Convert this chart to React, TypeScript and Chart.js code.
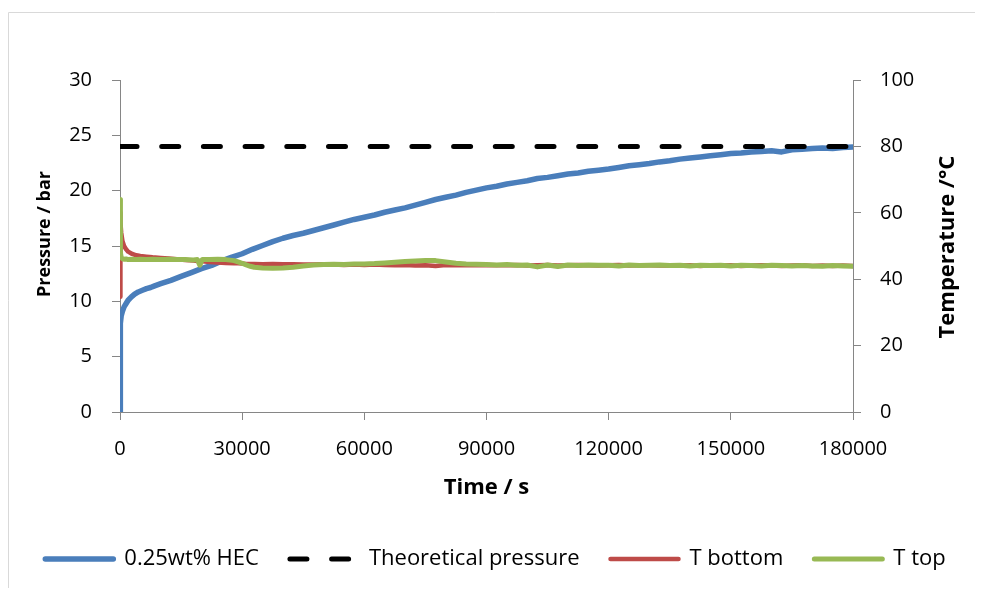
import React, { useEffect, useRef } from "react";
import { Chart, registerables } from "chart.js";

Chart.register(...registerables);

// ---------- data ----------
const seriesLabels = ["0.25wt% HEC", "Theoretical pressure", "T bottom", "T top"];
const xTitle = "Time / s";
const leftTitle = "Pressure / bar";
const rightTitle = "Temperature /°C";

const pressureTime = [
  0, 30, 80, 150, 300, 600, 1000, 1500, 2000, 2800, 3600, 4500, 5500, 6500, 7500, 8500,
  10000, 12500, 15000, 17500, 20000, 22500, 25000, 27500, 30000, 32500, 35000, 37500,
  40000, 42500, 45000, 47500, 50000, 52500, 55000, 57500, 60000, 62500, 65000, 67500,
  70000, 72500, 75000, 77500, 80000, 82500, 85000, 87500, 90000, 92500, 95000, 97500,
  100000, 102500, 105000, 107500, 110000, 112500, 115000, 117500, 120000, 122500, 125000,
  127500, 130000, 132500, 135000, 137500, 140000, 142500, 145000, 147500, 150000, 152500,
  155000, 157500, 160000, 162500, 165000, 167500, 170000, 172500, 175000, 177500, 180000,
];
const pressureHEC = [
  0, 4.0, 6.8, 8.0, 8.7, 9.1, 9.5, 9.8, 10.1, 10.4, 10.65, 10.85, 11.0, 11.15, 11.25, 11.4,
  11.6, 11.9, 12.25, 12.6, 12.95, 13.25, 13.65, 14.0, 14.3, 14.7, 15.05, 15.4,
  15.7, 15.95, 16.15, 16.4, 16.65, 16.9, 17.15, 17.4, 17.6, 17.8, 18.05, 18.25,
  18.45, 18.7, 18.95, 19.2, 19.4, 19.6, 19.85, 20.05, 20.25, 20.4, 20.6, 20.75,
  20.9, 21.1, 21.2, 21.35, 21.5, 21.6, 21.75, 21.85, 21.95, 22.1, 22.25,
  22.35, 22.45, 22.6, 22.7, 22.85, 22.95, 23.05, 23.15, 23.25, 23.35, 23.4,
  23.5, 23.55, 23.6, 23.5, 23.7, 23.75, 23.8, 23.85, 23.8, 23.9, 23.95,
];

const theoreticalTime = [0, 180000];
const theoreticalPressure = [24, 24];

const tempTime = [
  0, 60, 150, 300, 600, 1000, 1500, 2000, 3000, 4000,
  5000, 6500, 8000, 10000, 12000, 14000, 16000, 18000, 19000, 19600,
  20200, 22000, 24000, 26000, 28000, 29000, 30000, 31000, 32000, 33000,
  35000, 37500, 40000, 42500, 45000, 47500, 50000, 52500, 55000, 57500,
  60000, 62500, 65000, 67500, 70000, 72500, 75000, 77500, 80000, 82500,
  85000, 87500, 90000, 92500, 95000, 97500, 100000, 102500, 105000, 107500,
  110000, 112500, 115000, 117500, 120000, 122500, 125000, 127500, 130000, 132500,
  135000, 137500, 140000, 142500, 145000, 147500, 150000, 152500, 155000, 157500,
  160000, 162500, 165000, 167500, 170000, 172500, 175000, 177500, 180000,
];
const tBottom = [
  34.7, 60.0, 57.0, 54.0, 51.5, 50.0, 49.0, 48.3, 47.6, 47.2,
  47.0, 46.8, 46.6, 46.4, 46.2, 46.0, 45.8, 45.6, 45.5, 45.4,
  45.4, 45.2, 45.0, 44.9, 44.8, 44.8, 44.7, 44.6, 44.6, 44.6,
  44.5, 44.6, 44.5, 44.5, 44.4, 44.4, 44.5, 44.4, 44.3, 44.4,
  44.3, 44.4, 44.3, 44.2, 44.3, 44.1, 44.2, 44.0, 44.3, 44.2,
  44.3, 44.2, 44.3, 44.2, 44.2, 44.3, 44.1, 44.2, 44.3, 44.1,
  44.2, 44.3, 44.2, 44.1, 44.2, 44.3, 44.1, 44.2, 44.2, 44.1,
  44.2, 44.1, 44.2, 44.0, 44.2, 44.1, 44.2, 44.0, 44.1, 44.2,
  44.1, 44.0, 44.1, 44.2, 44.0, 44.1, 44.0, 44.1, 44.0,
];
const tTop = [
  64.0, 55.0, 48.0, 46.5, 46.2, 46.0, 46.1, 45.9, 46.0, 45.9,
  46.0, 45.9, 46.0, 45.9, 46.0, 45.9, 45.9, 45.8, 45.9, 44.2,
  45.9, 45.9, 46.0, 45.9, 45.6, 45.2, 44.8, 44.3, 43.9, 43.6,
  43.4, 43.3, 43.4, 43.6, 44.0, 44.3, 44.4, 44.5, 44.4, 44.6,
  44.6, 44.7, 44.9, 45.1, 45.3, 45.5, 45.6, 45.6, 45.2, 44.8,
  44.6, 44.5, 44.4, 44.3, 44.4, 44.2, 44.3, 43.7, 44.3, 43.8,
  44.3, 44.1, 44.3, 44.2, 44.2, 44.0, 44.3, 44.1, 44.2, 44.3,
  44.1, 44.2, 44.0, 44.2, 44.1, 44.2, 44.0, 44.2, 44.1, 44.0,
  44.2, 44.1, 44.0, 44.1, 44.0, 43.9, 44.1, 44.0, 43.9,
];

const xMin = 0, xMax = 180000, xStep = 30000;
const pMin = 0, pMax = 30, pStep = 5;
const tMin = 0, tMax = 100, tStep = 20;

// ---------- styling ----------
const FONT = "'Open Sans', sans-serif";
const AXIS_GREY = "#868686";
const colors = ["#4A7EBB", "#000000", "#BE4B48", "#98B954"];

const toPoints = (xs: number[], ys: number[]) => xs.map((x, i) => ({ x, y: ys[i] }));

const decorPlugin = {
  id: "decor",
  beforeDraw(chart: any) {
    const ctx = chart.ctx;
    ctx.save();
    ctx.strokeStyle = "#d9d9d9";
    ctx.lineWidth = 1;
    ctx.beginPath();
    ctx.moveTo(0.5, chart.height);
    ctx.lineTo(0.5, 4.5);
    ctx.lineTo(chart.width, 4.5);
    ctx.stroke();
    ctx.restore();
  },
  afterDraw(chart: any) {
    const ctx = chart.ctx;
    ctx.save();
    ctx.fillStyle = "#000";
    ctx.textAlign = "center";
    ctx.textBaseline = "middle";
    ctx.font = `bold 18px ${FONT}`;
    ctx.save();
    ctx.translate(37, 226);
    ctx.rotate(-Math.PI / 2);
    ctx.fillText(leftTitle, 0, 0);
    ctx.restore();
    ctx.font = `bold 22px ${FONT}`;
    ctx.save();
    ctx.translate(940, 239);
    ctx.rotate(-Math.PI / 2);
    ctx.fillText(rightTitle, 0, 0);
    ctx.restore();
    ctx.restore();
  },
};

export default function App() {
  const canvasRef = useRef<HTMLCanvasElement | null>(null);

  useEffect(() => {
    if (!canvasRef.current) return;
    Chart.defaults.font.family = FONT;
    const tickFont = { family: FONT, size: 20 };
    const chart = new Chart(canvasRef.current, {
      type: "line",
      data: {
        datasets: [
          {
            label: seriesLabels[0],
            data: toPoints(pressureTime, pressureHEC),
            yAxisID: "y",
            borderColor: colors[0],
            backgroundColor: colors[0],
            borderWidth: 5.5,
            borderCapStyle: "round",
            borderJoinStyle: "round",
            pointRadius: 0,
            order: 3,
          },
          {
            label: seriesLabels[1],
            data: toPoints(theoreticalTime, theoreticalPressure),
            yAxisID: "y",
            borderColor: colors[1],
            backgroundColor: colors[1],
            borderWidth: 5,
            borderDash: [17, 24.7],
            borderCapStyle: "round",
            pointRadius: 0,
            order: 2,
          },
          {
            label: seriesLabels[2],
            data: toPoints(tempTime, tBottom),
            yAxisID: "y1",
            borderColor: colors[2],
            backgroundColor: colors[2],
            borderWidth: 4.5,
            borderCapStyle: "round",
            borderJoinStyle: "round",
            pointRadius: 0,
            order: 1,
          },
          {
            label: seriesLabels[3],
            data: toPoints(tempTime, tTop),
            yAxisID: "y1",
            borderColor: colors[3],
            backgroundColor: colors[3],
            borderWidth: 5,
            borderCapStyle: "round",
            borderJoinStyle: "round",
            pointRadius: 0,
            order: 0,
          },
        ],
      },
      options: {
        responsive: false,
        animation: false,
        layout: { padding: { top: 72, bottom: 8, left: 0, right: 0 } },
        plugins: {
          tooltip: { enabled: false },
          legend: {
            position: "bottom",
            labels: {
              usePointStyle: true,
              pointStyle: "line",
              pointStyleWidth: 68,
              padding: 31,
              color: "#000",
              font: { family: FONT, size: 22 },
              generateLabels: (ch: any) =>
                ch.data.datasets.map((ds: any, i: number) => ({
                  text: ds.label,
                  fillStyle: ds.borderColor,
                  strokeStyle: ds.borderColor,
                  lineWidth: ds.borderWidth,
                  lineDash: ds.borderDash || [],
                  lineCap: "round",
                  pointStyle: "line",
                  fontColor: "#000",
                  hidden: false,
                  datasetIndex: i,
                })),
            },
          },
        },
        scales: {
          x: {
            type: "linear",
            position: "bottom",
            min: xMin,
            max: xMax,
            afterFit: (s: any) => { s.height = 105; },
            ticks: {
              stepSize: xStep,
              color: "#000",
              font: tickFont,
              padding: 17,
              maxRotation: 0,
              callback: (v: any) => String(v),
            },
            grid: { drawOnChartArea: false, color: AXIS_GREY, tickLength: 8, lineWidth: 1 },
            border: { display: true, color: AXIS_GREY, width: 1 },
            title: {
              display: true,
              text: xTitle,
              color: "#000",
              font: { family: FONT, size: 22, weight: "bold" },
              padding: { top: 0, bottom: 16 },
            },
          },
          y: {
            type: "linear",
            position: "left",
            min: pMin,
            max: pMax,
            afterFit: (s: any) => { s.width = 112; },
            ticks: { stepSize: pStep, color: "#000", font: tickFont, padding: 20, callback: (v: any) => String(v) },
            grid: { drawOnChartArea: false, color: AXIS_GREY, tickLength: 8, lineWidth: 1 },
            border: { display: true, color: AXIS_GREY, width: 1 },
          },
          y1: {
            type: "linear",
            position: "right",
            min: tMin,
            max: tMax,
            afterFit: (s: any) => { s.width = 130; },
            ticks: { stepSize: tStep, color: "#000", font: tickFont, padding: 19, callback: (v: any) => String(v) },
            grid: { drawOnChartArea: false, color: AXIS_GREY, tickLength: 8, lineWidth: 1 },
            border: { display: true, color: AXIS_GREY, width: 1 },
          },
        },
      },
      plugins: [decorPlugin],
    } as any);
    return () => chart.destroy();
  }, []);

  return (
    <div style={{ width: 975, height: 580 }}>
      <canvas ref={canvasRef} width={975} height={580} style={{ display: "block" }} />
    </div>
  );
}
